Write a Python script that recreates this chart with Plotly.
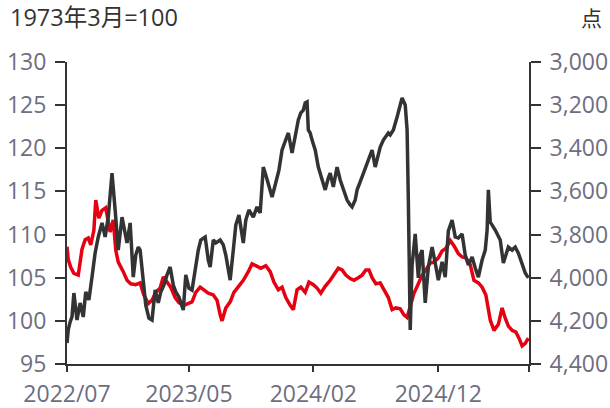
import plotly.graph_objects as go

# x positions are trading-day indices from 2022/07
tick_idx = [0, 195, 394, 594, 739]
tick_text = ["2022/07", "2023/05", "2024/02", "2024/12", ""]

red_idx = [0, 2, 6, 11, 18, 24, 29, 34, 38, 43, 46, 51, 56, 62, 69, 74, 78, 82, 90, 96,
           102, 110, 117, 123, 130, 136, 142, 149, 154, 160, 166, 173, 179, 187, 194, 200,
           206, 213, 219, 226, 234, 240, 245, 248, 254, 261, 267, 274, 282, 290, 296, 302,
           310, 318, 325, 331, 338, 344, 350, 357, 362, 368, 374, 381, 387, 394, 400, 406,
           413, 421, 427, 434, 440, 446, 453, 459, 466, 472, 478, 483, 488, 494, 501, 507,
           514, 520, 526, 533, 539, 544, 549, 555, 562, 568, 574, 581, 587, 594, 600, 606,
           613, 619, 626, 632, 638, 645, 651, 658, 664, 670, 677, 683, 690, 696, 701, 706,
           712, 718, 723, 728, 733, 738]
red_val = [108.6, 107.1, 106.2, 105.5, 105.3, 108.3, 109.4, 109.6, 108.8, 110.5, 114.0,
           111.9, 112.8, 113.1, 110.3, 111.7, 108.2, 106.8, 105.7, 104.7, 104.3, 104.2,
           104.4, 103.0, 102.0, 102.4, 103.3, 103.8, 105.1, 104.5, 103.9, 102.7, 102.1,
           101.8, 102.0, 102.2, 103.3, 103.9, 103.6, 103.2, 103.0, 102.4, 100.7, 100.0,
           101.5, 102.2, 103.3, 104.0, 104.7, 105.7, 106.6, 106.4, 106.1, 106.4, 105.7,
           104.5, 103.6, 103.9, 102.7, 101.8, 101.3, 103.6, 103.9, 103.3, 104.5, 104.2,
           103.8, 103.2, 104.0, 104.7, 105.3, 106.1, 105.9, 105.3, 104.9, 104.7, 105.0,
           105.3, 105.9, 105.9, 105.0, 104.3, 104.4, 103.6, 102.7, 101.3, 101.5, 101.4,
           100.7, 100.4, 101.8, 103.2, 104.3, 105.3, 105.9, 106.7, 106.8, 107.3, 108.1,
           108.4, 109.3, 108.7, 107.8, 107.4, 107.3, 106.5, 104.7, 104.4, 103.9, 103.0,
           100.1, 98.9, 99.6, 101.5, 100.3, 99.4, 98.9, 98.7, 98.0, 97.1, 97.4, 98.0]

blk_idx = [0, 2, 5, 8, 11, 16, 21, 26, 30, 35, 40, 45, 50, 56, 61, 66, 69, 72, 77, 82,
           88, 93, 96, 101, 106, 110, 114, 117, 122, 126, 131, 136, 141, 146, 150, 155,
           160, 165, 170, 174, 179, 186, 190, 195, 200, 205, 210, 214, 221, 226, 229, 234,
           238, 245, 250, 254, 261, 266, 270, 275, 282, 286, 291, 298, 304, 309, 314, 318,
           322, 328, 333, 339, 344, 349, 354, 360, 365, 370, 374, 378, 381, 384, 386, 389,
           392, 397, 402, 408, 413, 418, 421, 426, 432, 437, 442, 448, 453, 456, 461, 464,
           472, 480, 488, 493, 498, 501, 506, 514, 517, 522, 528, 533, 536, 541, 544, 546,
           547, 549, 552, 557, 562, 565, 568, 573, 578, 584, 589, 594, 600, 605, 610, 616,
           621, 626, 632, 637, 642, 648, 653, 658, 664, 669, 672, 674, 677, 685, 693, 698,
           702, 706, 712, 717, 722, 728, 733, 738]
blk_val = [4303, 4242, 4205, 4182, 4071, 4196, 4117, 4182, 4066, 4103, 3997, 3885, 3811,
           3746, 3811, 3719, 3617, 3515, 3686, 3872, 3719, 3802, 3839, 3746, 3997, 3895,
           3858, 3872, 4034, 4127, 4187, 4196, 4057, 4117, 4066, 4034, 3987, 3950, 4034,
           4066, 4089, 4150, 3987, 4048, 4057, 3950, 3872, 3825, 3811, 3918, 3950, 3825,
           3839, 3825, 3848, 3895, 4011, 3872, 3756, 3709, 3839, 3733, 3686, 3719, 3672,
           3700, 3487, 3524, 3570, 3626, 3570, 3501, 3408, 3362, 3329, 3422, 3338, 3269,
           3236, 3223, 3190, 3185, 3315, 3329, 3362, 3408, 3487, 3547, 3593, 3538, 3515,
           3579, 3487, 3547, 3593, 3640, 3663, 3672, 3640, 3593, 3533, 3468, 3408, 3487,
           3431, 3394, 3362, 3329, 3338, 3315, 3255, 3190, 3167, 3199, 3315, 3640, 4011,
           4242, 3941, 3797, 4001, 3895, 3872, 4117, 3950, 3858, 3932, 4011, 3927, 3997,
           3783, 3733, 3811, 3816, 3797, 3895, 3941, 3904, 3955, 3997, 3918, 3872, 3779,
           3593, 3742, 3779, 3825, 3932, 3895, 3858, 3872, 3858, 3886, 3932, 3978, 4001]

left_ticks = [95, 100, 105, 110, 115, 120, 125, 130]
right_ticks = [3000, 3200, 3400, 3600, 3800, 4000, 4200, 4400]

FONT = "Open Sans, Noto Sans CJK SC, sans-serif"
LBL = "#6e6e80"
AX = "#333333"
TS = 23

fig = go.Figure()
fig.add_trace(go.Scatter(x=red_idx, y=red_val, mode="lines",
                         line=dict(color="#e60012", width=3.5), yaxis="y"))
fig.add_trace(go.Scatter(x=blk_idx, y=blk_val, mode="lines",
                         line=dict(color="#333333", width=3.5), yaxis="y2"))

fig.update_layout(
    width=610, height=408,
    margin=dict(l=67, r=81, t=62, b=44),
    paper_bgcolor="white", plot_bgcolor="white",
    showlegend=False,
    font=dict(family=FONT, size=TS, color=LBL),
    xaxis=dict(range=[0, 739], tickvals=tick_idx, ticktext=tick_text,
               showgrid=False, zeroline=False, showline=True, linecolor=AX,
               linewidth=2, ticks="outside", ticklen=6, tickwidth=2, tickcolor=AX,
               tickfont=dict(size=TS, color=LBL), automargin=False,
               ticklabelstandoff=2),
    yaxis=dict(range=[95, 130], tickvals=left_ticks, showgrid=False, zeroline=False,
               showline=True, linecolor=AX, linewidth=2, ticks="outside", ticklen=10,
               tickwidth=2, tickcolor=AX, tickfont=dict(size=TS, color=LBL),
               ticklabelstandoff=4, automargin=False),
    yaxis2=dict(range=[4400, 3000], tickvals=right_ticks, tickformat=",",
                overlaying="y", side="right", showgrid=False, zeroline=False,
                showline=True, linecolor=AX, linewidth=2, ticks="outside", ticklen=10,
                tickwidth=2, tickcolor=AX, tickfont=dict(size=TS, color=LBL),
                ticklabelstandoff=4, automargin=False),
    annotations=[
        dict(text="1973年3月=100", xref="paper", yref="paper",
             x=-0.128, y=1.148, xanchor="left", yanchor="middle", showarrow=False,
             font=dict(size=23.5, color="#333333", family=FONT)),
        dict(text="点", xref="paper", yref="paper",
             x=1.162, y=1.147, xanchor="right", yanchor="middle", showarrow=False,
             font=dict(size=21, color="#333333", family=FONT)),
    ],
)

fig.write_html("out.html", config={"displayModeBar": False},
               post_script="document.body.style.margin='0';")
